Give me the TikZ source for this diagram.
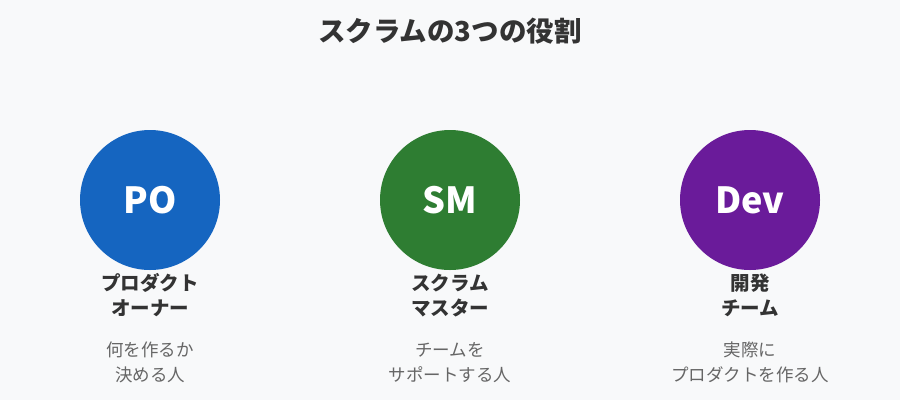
\documentclass[tikz,border=0pt]{standalone}
\usepackage{fontspec}
\setmainfont{Noto Sans CJK JP}
\usepackage{tikz}
\usetikzlibrary{positioning}

\definecolor{bgcol}{HTML}{F8F9FA}
\definecolor{titlecol}{HTML}{333333}
\definecolor{desccol}{HTML}{666666}
\definecolor{pocol}{HTML}{1565C0}
\definecolor{smcol}{HTML}{2E7D32}
\definecolor{devcol}{HTML}{6A1B9A}

\begin{document}
\begin{tikzpicture}[
            x=1pt,y=-1pt,
            role/.style={circle,minimum size=140pt,inner sep=0pt,text=white,font=\fontsize{36}{40}\selectfont\bfseries},
            rolename/.style={align=center,text=titlecol,node distance=95.5pt,font=\fontsize{19.5}{25}\selectfont\bfseries},
            roledesc/.style={align=center,text=desccol,node distance=67pt,font=\fontsize{17.5}{25}\selectfont}
          ]
          \fill[bgcol] (0,0) rectangle (900,400);
          \useasboundingbox (0,0) rectangle (900,400);

          %title
          \node[text=titlecol,font=\fontsize{27.5}{30}\selectfont\bfseries] (title) at (450,31) {スクラムの3つの役割};

          %roles
          \node[role,fill=pocol] (po) at (150,200) {PO};
          \node[role,fill=smcol] (sm) at (450,200) {SM};
          \node[role,fill=devcol] (dev) at (750,200) {Dev};

          %names
          \node[below of = po,rolename] (poname) {プロダクト\\オーナー};
          \node[below of = sm,rolename] (smname) {スクラム\\マスター};
          \node[below of = dev,rolename] (devname) {開発\\チーム};

          %descriptions
          \node[below of = poname,roledesc] (podesc) {何を作るか\\決める人};
          \node[below of = smname,roledesc] (smdesc) {チームを\\サポートする人};
          \node[below of = devname,roledesc] (devdesc) {実際に\\プロダクトを作る人};

      \end{tikzpicture}
\end{document}
